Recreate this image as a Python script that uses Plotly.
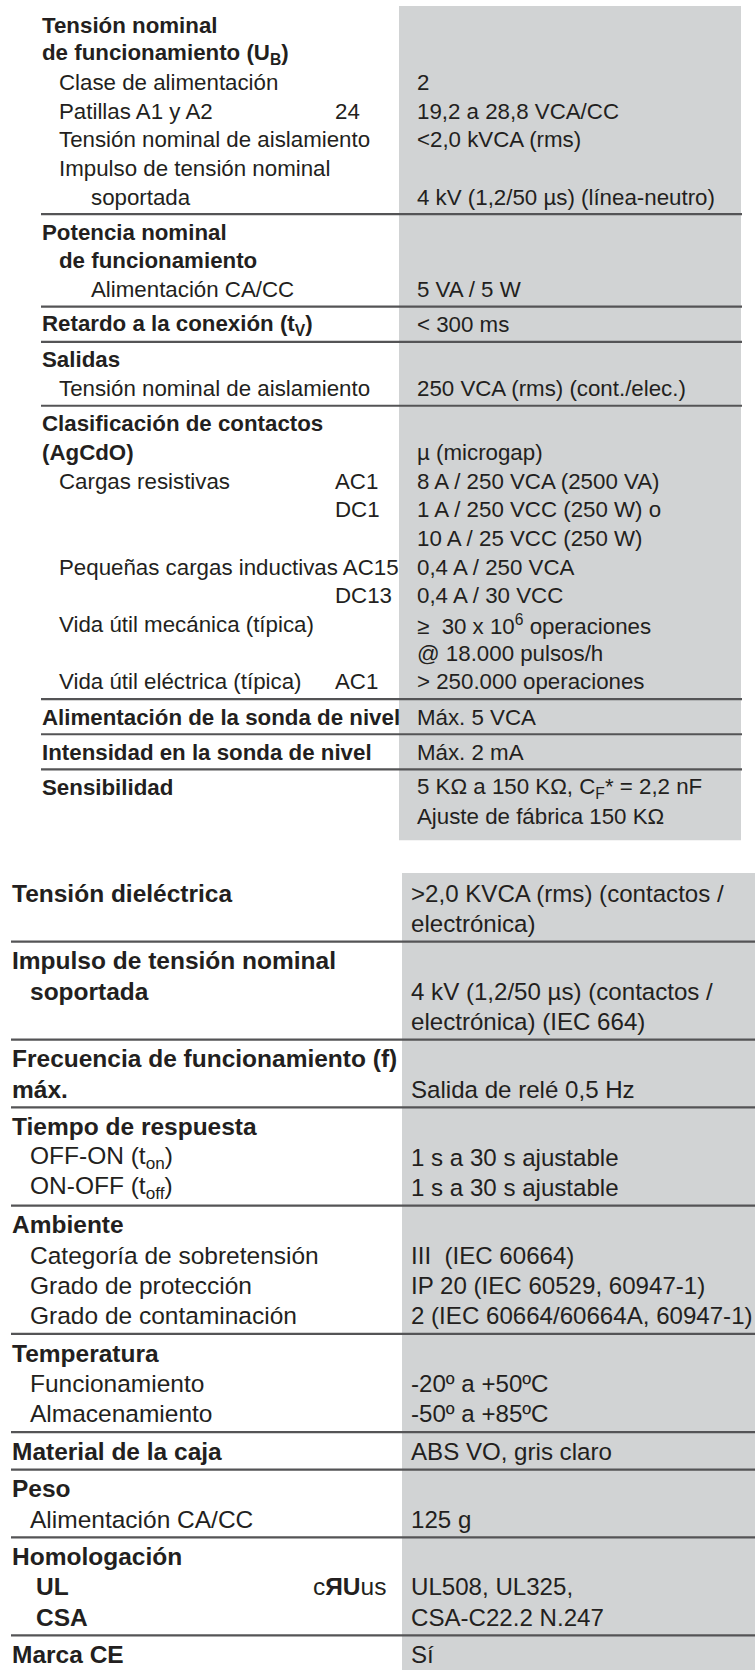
import plotly.graph_objects as go

# ---------------- DATA ----------------
# Upper table
top_label = [
    "Tensión nominal", "de funcionamiento (U<sub>B</sub>)", "Clase de alimentación",
    "Patillas A1 y A2", "Tensión nominal de aislamiento", "Impulso de tensión nominal",
    "soportada",
    "Potencia nominal", "de funcionamiento", "Alimentación CA/CC",
    "Retardo a la conexión (t<sub>V</sub>)",
    "Salidas", "Tensión nominal de aislamiento",
    "Clasificación de contactos", "(AgCdO)", "Cargas resistivas", "", "",
    "Pequeñas cargas inductivas AC15", "", "Vida útil mecánica (típica)", "",
    "Vida útil eléctrica (típica)",
    "Alimentación de la sonda de nivel",
    "Intensidad en la sonda de nivel",
    "Sensibilidad", "",
]
top_code = [
    "", "", "", "24", "", "", "",
    "", "", "",
    "",
    "", "",
    "", "", "AC1", "DC1", "", "", "DC13", "", "", "AC1",
    "",
    "",
    "", "",
]
top_value = [
    "", "", "2", "19,2 a 28,8 VCA/CC", "<2,0 kVCA (rms)", "",
    "4 kV (1,2/50 µs) (línea-neutro)",
    "", "", "5 VA / 5 W",
    "< 300 ms",
    "", "250 VCA (rms) (cont./elec.)",
    "", "µ (microgap)", "8 A / 250 VCA (2500 VA)", "1 A / 250 VCC (250 W) o",
    "10 A / 25 VCC (250 W)", "0,4 A / 250 VCA", "0,4 A / 30 VCC",
    "≥  30 x 10<sup>6</sup> operaciones", "@ 18.000 pulsos/h", "> 250.000 operaciones",
    "Máx. 5 VCA",
    "Máx. 2 mA",
    "5 KΩ a 150 KΩ, C<sub>F</sub>* = 2,2 nF", "Ajuste de fábrica 150 KΩ",
]
top_section = [0]*7 + [1]*3 + [2] + [3]*2 + [4]*10 + [5] + [6] + [7]*2
top_bold = [1, 1, 0, 0, 0, 0, 0,
            1, 1, 0,
            1,
            1, 0,
            1, 1, 0, 0, 0, 0, 0, 0, 0, 0,
            1, 1, 1, 0]
top_level = [0, 0, 1, 1, 1, 1, 2,
             0, 1, 2,
             0,
             0, 1,
             0, 0, 1, 1, 1, 1, 1, 1, 1, 1,
             0, 0, 0, 0]

# Lower table
bot_label = [
    "Tensión dieléctrica", "",
    "Impulso de tensión nominal", "soportada", "",
    "Frecuencia de funcionamiento (f)", "máx.",
    "Tiempo de respuesta", "OFF-ON (t<sub>on</sub>)", "ON-OFF (t<sub>off</sub>)",
    "Ambiente", "Categoría de sobretensión", "Grado de protección", "Grado de contaminación",
    "Temperatura", "Funcionamiento", "Almacenamiento",
    "Material de la caja",
    "Peso", "Alimentación CA/CC",
    "Homologación", "UL", "CSA",
    "Marca CE",
]
bot_code = [""]*21 + ["c<b>ЯU</b>us", "", ""]
bot_value = [
    ">2,0 KVCA (rms) (contactos /", "electrónica)",
    "", "4 kV (1,2/50 µs) (contactos /", "electrónica) (IEC 664)",
    "", "Salida de relé 0,5 Hz",
    "", "1 s a 30 s ajustable", "1 s a 30 s ajustable",
    "", "III  (IEC 60664)", "IP 20 (IEC 60529, 60947-1)", "2 (IEC 60664/60664A, 60947-1)",
    "", "-20º a +50ºC", "-50º a +85ºC",
    "ABS VO, gris claro",
    "", "125 g",
    "", "UL508, UL325,", "CSA-C22.2 N.247",
    "Sí",
]
bot_section = [0]*2 + [1]*3 + [2]*2 + [3]*3 + [4]*4 + [5]*3 + [6] + [7]*2 + [8]*3 + [9]
bot_bold = [1, 0, 1, 1, 0, 1, 1, 1, 0, 0, 1, 0, 0, 0, 1, 0, 0, 1, 1, 0, 1, 1, 1, 1]
bot_level = [0, 0, 0, 1, 0, 0, 0, 0, 1, 1, 0, 1, 1, 1, 0, 1, 1, 0, 0, 1, 0, 2, 2, 0]

# ---------------- LAYOUT ----------------
W, H = 755, 1670
FONT = "Liberation Sans, Arial, Helvetica, sans-serif"
TXT = "#231f20"
GRAY = "#d1d3d4"
LINE = "#545456"

fig = go.Figure()
fig.add_trace(go.Scatter(x=[0, W], y=[0, H], mode="markers",
                         marker=dict(opacity=0), hoverinfo="skip", showlegend=False))

shapes = []
annotations = []


def add_text(x, y, text, size):
    annotations.append(dict(x=x, y=y, xref="x", yref="y", text=text,
                            showarrow=False, xanchor="left", yanchor="middle",
                            borderpad=0, borderwidth=0,
                            font=dict(family=FONT, size=size, color=TXT)))


def build(labels, codes, values, sections, bold, level, start, pitch, gap,
          level_x, code_x, value_x, label_size, value_size, line_x0, line_x1,
          gray_x0, gray_x1, gray_top_pad, gray_bottom):
    ys = [start + i * pitch + s * gap for i, s in enumerate(sections)]
    top = ys[0] - gray_top_pad
    bottom = gray_bottom(ys)
    shapes.append(dict(type="rect", xref="x", yref="y", x0=gray_x0, x1=gray_x1,
                       y0=top, y1=bottom, fillcolor=GRAY, line=dict(width=0),
                       layer="below"))
    for i in range(len(ys) - 1):
        if sections[i] != sections[i + 1]:
            yl = (ys[i] + ys[i + 1]) / 2 - 0.5
            shapes.append(dict(type="line", xref="x", yref="y", x0=line_x0, x1=line_x1,
                               y0=yl, y1=yl, line=dict(color=LINE, width=2.2)))
    for i, y in enumerate(ys):
        if labels[i]:
            t = f"<b>{labels[i]}</b>" if bold[i] else labels[i]
            add_text(level_x[level[i]], y, t, label_size)
        if codes[i]:
            add_text(code_x, y, codes[i], label_size)
        if values[i]:
            add_text(value_x, y, values[i], value_size)


build(top_label, top_code, top_value, top_section, top_bold, top_level,
      start=25, pitch=28.68, gap=6.5, level_x=[42, 59, 91], code_x=335,
      value_x=417, label_size=22.3, value_size=22.3, line_x0=41, line_x1=742,
      gray_x0=399, gray_x1=741, gray_top_pad=19, gray_bottom=lambda ys: ys[-1] + 24)

build(bot_label, bot_code, bot_value, bot_section, bot_bold, bot_level,
      start=893, pitch=30.3, gap=7.2, level_x=[12, 30, 36], code_x=313,
      value_x=411, label_size=24.5, value_size=24.1, line_x0=11, line_x1=755,
      gray_x0=402, gray_x1=755, gray_top_pad=20, gray_bottom=lambda ys: H)

fig.update_layout(
    width=W, height=H,
    margin=dict(l=0, r=0, t=0, b=0),
    paper_bgcolor="white", plot_bgcolor="white",
    xaxis=dict(range=[0, W], visible=False, fixedrange=True),
    yaxis=dict(range=[H, 0], visible=False, fixedrange=True),
    shapes=shapes, annotations=annotations,
    showlegend=False,
)

fig.write_html(
    "out.html",
    config={"displayModeBar": False},
    post_script="document.body.style.margin='0';document.body.style.overflow='hidden';",
)
